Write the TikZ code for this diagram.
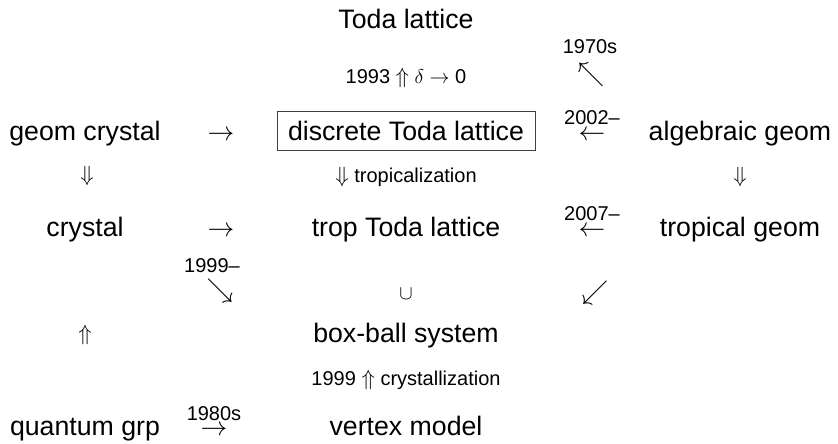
\documentclass[tikz,border=0pt]{standalone}
\usepackage{fix-cm}
\usepackage{fontspec}
\setmainfont{Liberation Sans}
\newcommand\dblup{{\fontsize{22}{26}\selectfont$\Uparrow$}}
\newcommand\dbldown{{\fontsize{22}{26}\selectfont$\Downarrow$}}
\tikzset{
  lab/.style={inner sep=0pt, anchor=base, font=\fontsize{26.7}{32}\selectfont},
  note/.style={inner sep=0pt, anchor=base, font=\fontsize{20}{24}\selectfont},
  glyph/.style={inner sep=0pt, anchor=center, font=\fontsize{26.7}{32}\selectfont},
  dbl/.style={inner sep=0pt, anchor=center, font=\fontsize{22}{26}\selectfont},
  framed/.style={draw=black!75, line width=0.9pt, inner xsep=11pt, inner ysep=4.5pt,
                 text height=24.3pt, text depth=5.7pt}
}
\begin{document}
\begin{tikzpicture}[x=1pt,y=1pt]
\useasboundingbox (0,0) rectangle (838,-444);
% row 1
\node[lab] (toda) at (406,-29) {Toda lattice};
\node[note] (y1970) at (590,-54) {1970s};
\node[glyph] (nw) at (591,-75) {$\nwarrow$};
\node[note] (t1993) at (406,-83) {1993 \dblup\ $\delta\rightarrow$ 0};
% row 3
\node[lab] (geomcrystal) at (85,-140) {geom crystal};
\node[lab] (arrA) at (221,-140) {$\rightarrow$};
\node[lab, framed] (dtoda) at (406,-140) {discrete Toda lattice};
\node[note] (y2002) at (592,-124) {2002--};
\node[lab] (arrB) at (592,-140) {$\leftarrow$};
\node[lab] (alg) at (740,-140) {algebraic geom};
% row 4
\node[dbl] (downA) at (87,-176) {$\Downarrow$};
\node[note] (trop) at (406,-182) {\dbldown\ tropicalization};
\node[dbl] (downE) at (740,-177) {$\Downarrow$};
% row 5
\node[lab] (crystal) at (85,-236) {crystal};
\node[lab] (arrC) at (221,-236) {$\rightarrow$};
\node[lab] (troptoda) at (406,-236) {trop Toda lattice};
\node[note] (y2007) at (592,-220) {2007--};
\node[lab] (arrD) at (592,-236) {$\leftarrow$};
\node[lab] (tropgeom) at (740,-236) {tropical geom};
% row 6
\node[note] (y1999a) at (212,-272) {1999--};
\node[glyph] (se) at (220,-291) {$\searrow$};
\node[note, anchor=center] (cup) at (406,-294) {$\cup$};
\node[glyph] (sw) at (595,-293) {$\swarrow$};
% row 7
\node[dbl] (upA) at (85,-335) {$\Uparrow$};
\node[lab] (bbs) at (406,-342) {box-ball system};
% row 8
\node[note] (cryst) at (406,-385) {1999 \dblup\ crystallization};
% row 9
\node[lab] (qg) at (85,-435) {quantum grp};
\node[note] (y1980) at (214,-420) {1980s};
\node[lab] (arrE) at (214,-435) {$\rightarrow$};
\node[lab] (vm) at (406,-435) {vertex model};
\end{tikzpicture}
\end{document}
